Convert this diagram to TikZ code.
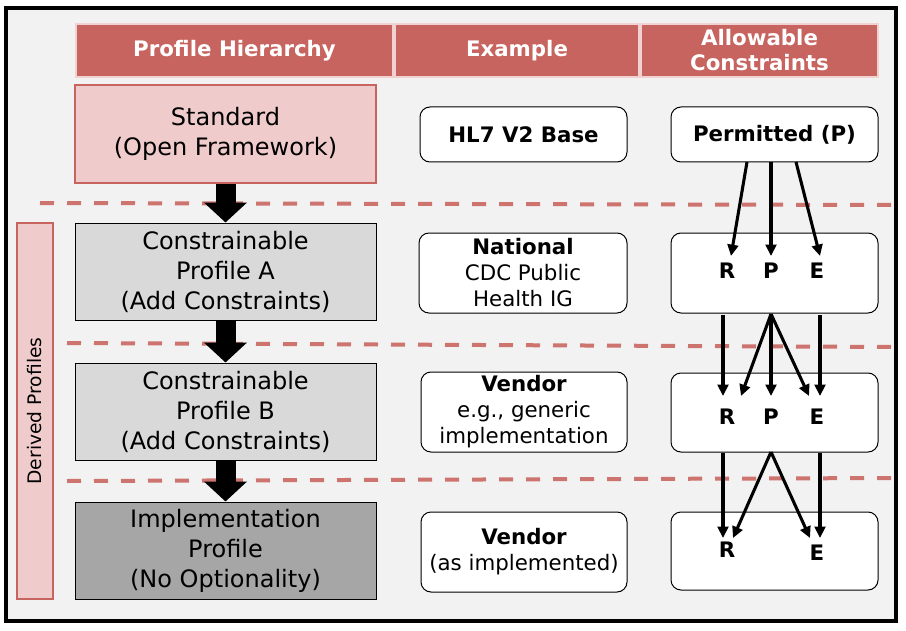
\documentclass[tikz,border=0pt]{standalone}
\usepackage{fontspec}
\setmainfont{DejaVu Sans}
\usetikzlibrary{arrows.meta}
\definecolor{hdrred}{HTML}{C8645F}
\definecolor{hdrline}{HTML}{F2D2D0}
\definecolor{pinkfill}{HTML}{EFCCCB}
\definecolor{bggray}{HTML}{F2F2F2}
\definecolor{midgray}{HTML}{D9D9D9}
\definecolor{darkgray}{HTML}{A6A6A6}
\tikzset{
  px/.style={x=0.75pt,y=-0.75pt},
  sz/.style 2 args={minimum width=#1*0.75pt,minimum height=#2*0.75pt},
  hdr/.style={fill=hdrred,draw=hdrline,line width=1.5pt,inner sep=0pt,text=white,
    font=\fontsize{16}{18.75}\selectfont\bfseries,align=center},
  stdbox/.style={fill=pinkfill,draw=hdrred,line width=1.5pt,inner sep=0pt,
    font=\fontsize{18}{22.5}\selectfont,align=center},
  profbox/.style={fill=midgray,draw=black,line width=0.75pt,inner sep=0pt,
    font=\fontsize{18}{22.5}\selectfont,align=center},
  exbox/.style={fill=white,draw=black,line width=0.75pt,rounded corners=7.5pt,inner sep=0pt,
    font=\fontsize{16}{19.5}\selectfont,align=center},
  letter/.style={font=\fontsize{16}{19}\selectfont\bfseries,inner sep=0pt},
  bigarrow/.style={line width=15pt,-{Triangle[length=15pt,width=31.5pt]}},
  smallarrow/.style={line width=2.3pt,-{Triangle[length=8.5pt,width=8pt]}},
  sepline/.style={draw=hdrred!90,line width=3pt,dash pattern=on 10.5pt off 9.75pt},
}
\begin{document}
\begin{tikzpicture}[px]
\useasboundingbox (0,0) rectangle (906,631);
\draw[fill=bggray,line width=2.5pt] (6,8) rectangle (896,621);
% header
\node[hdr,sz={317}{53}] (h1) at (234.5,50.5) {Profile Hierarchy};
\node[hdr,sz={244}{53}] (h2) at (517,50.5) {Example};
\node[hdr,sz={237}{53}] (h3) at (759.5,50.5) {Allowable\\Constraints};
% dashed separators
\coordinate (d1a) at (40,203); \coordinate (d1b) at (896,205);
\coordinate (d2a) at (67,343); \coordinate (d2b) at (896,347);
\coordinate (d3a) at (67,481); \coordinate (d3b) at (896,478);
\draw[sepline] (d1a) -- (d1b);
\draw[sepline] (d2a) -- (d2b);
\draw[sepline] (d3a) -- (d3b);
% left column
\node[stdbox,sz={301}{98}] (std) at (225.5,134) {Standard\\(Open Framework)};
\node[profbox,sz={301}{97}] (pa) at (225.5,271.5) {Constrainable\\Profile A\\(Add Constraints)};
\node[profbox,sz={301}{97}] (pb) at (225.5,411.5) {Constrainable\\Profile B\\(Add Constraints)};
\node[profbox,fill=darkgray,sz={301}{97}] (impl) at (225.5,550.5) {Implementation\\Profile\\(No Optionality)};
\node[stdbox,sz={36}{376}] (der) at (35,411) {};
\node[rotate=90,font=\fontsize{14}{16}\selectfont] (derlbl) at (der.center) {Derived Profiles};
\draw[bigarrow] (std.south) -- (pa.north);
\draw[bigarrow] (pa.south) -- (pb.north);
\draw[bigarrow] (pb.south) -- (impl.north);
% example column
\node[exbox,sz={207}{55}] (ex1) at (523.5,134.5) {\textbf{HL7 V2 Base}};
\node[exbox,sz={208}{80}] (ex2) at (523,273) {\textbf{National}\\CDC Public\\Health IG};
\node[exbox,sz={206}{80}] (ex3) at (524,412) {\textbf{Vendor}\\e.g., generic\\implementation};
\node[exbox,sz={206}{80}] (ex4) at (524,552) {\textbf{Vendor}\\(as implemented)};
% constraints column
\node[exbox,sz={207}{55}] (perm) at (774.5,134.5) {\textbf{Permitted (P)}};
\node[exbox,sz={207}{80}] (c1) at (774.5,273) {};
\node[exbox,sz={207}{79}] (c2) at (774.5,412.5) {};
\node[exbox,sz={207}{78}] (c3) at (774.5,551) {};
\node[letter] (r1) at (727,271) {R};
\node[letter] (p1) at (771,271) {P};
\node[letter] (e1) at (817,271) {E};
\node[letter] (r2) at (727,417) {R};
\node[letter] (p2) at (771,417) {P};
\node[letter] (e2) at (817,417) {E};
\node[letter] (r3) at (727,550) {R};
\node[letter] (e3) at (817,553) {E};
% arrows level 1
\coordinate (s1r) at (747,162); \coordinate (s1p) at (771,162); \coordinate (s1e) at (796,162);
\coordinate (t1r) at (731,256); \coordinate (t1p) at (771,256); \coordinate (t1e) at (820,256);
\draw[smallarrow] (s1r) -- (t1r);
\draw[smallarrow] (s1p) -- (t1p);
\draw[smallarrow] (s1e) -- (t1e);
% arrows level 2
\coordinate (s2r) at (723,315); \coordinate (s2p) at (771,314); \coordinate (s2e) at (820,315);
\coordinate (t2r) at (723,396); \coordinate (t2rp) at (741,396); \coordinate (t2p) at (771,396);
\coordinate (t2ep) at (809,396); \coordinate (t2e) at (820,396);
\draw[smallarrow] (s2r) -- (t2r);
\draw[smallarrow] (s2p) -- (t2rp);
\draw[smallarrow] (s2p) -- (t2p);
\draw[smallarrow] (s2p) -- (t2ep);
\draw[smallarrow] (s2e) -- (t2e);
% arrows level 3
\coordinate (s3r) at (723,453); \coordinate (s3p) at (771,452); \coordinate (s3e) at (820,453);
\coordinate (t3r) at (723,538); \coordinate (t3rp) at (733,538);
\coordinate (t3ep) at (810,538); \coordinate (t3e) at (820,538);
\draw[smallarrow] (s3r) -- (t3r);
\draw[smallarrow] (s3p) -- (t3rp);
\draw[smallarrow] (s3p) -- (t3ep);
\draw[smallarrow] (s3e) -- (t3e);
\end{tikzpicture}
\end{document}
